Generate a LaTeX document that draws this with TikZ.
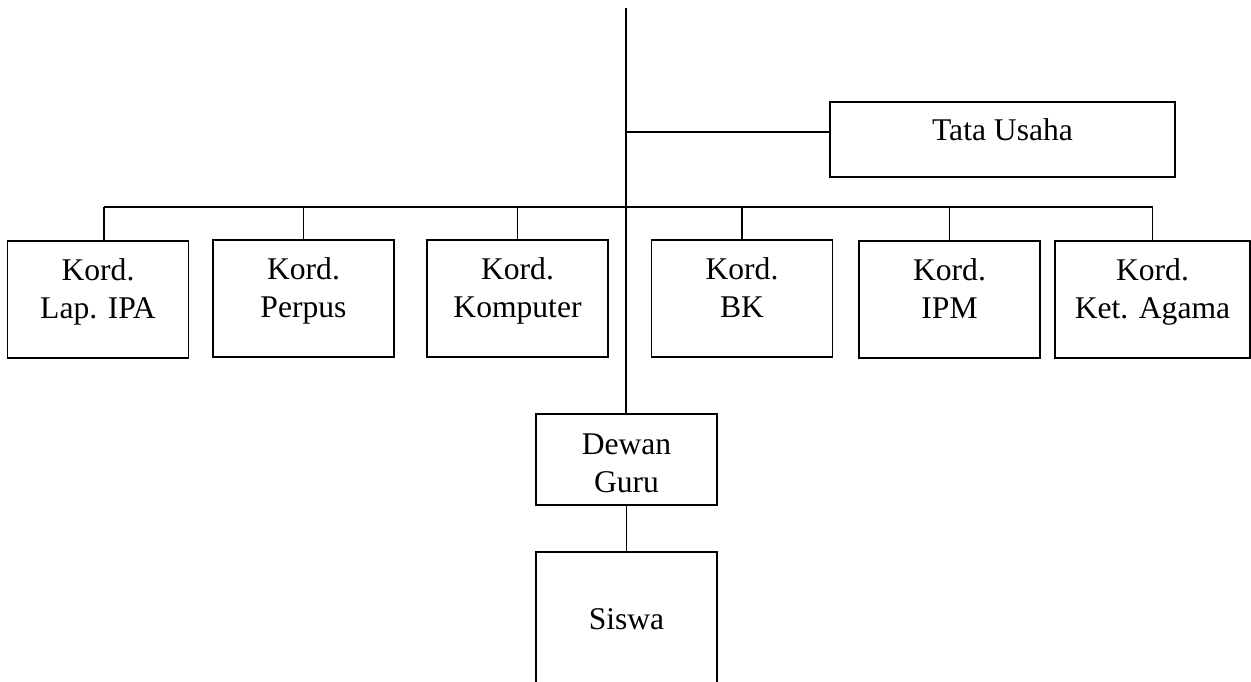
\documentclass[tikz,border=0pt]{standalone}
\usepackage{fontspec}
\setmainfont{Liberation Serif}
\newcommand\isi{\fontsize{31.6}{37.5}\selectfont}
\tikzset{
	kotak/.style={draw, line width=1.5pt, inner sep=0pt, minimum width=181pt, minimum height=117pt},
	teks/.style={font=\isi, align=center},
	garis/.style={line width=1.5pt}
}
\begin{document}
\begin{tikzpicture}[x=1pt,y=-1pt]
	\useasboundingbox (0,0) rectangle (1251,681);
	%main line points
	\coordinate (puncak) at (626,8);
	\coordinate (cabang) at (626,132);
	\coordinate (bus) at (626,207);
	%tata usaha
	\node[kotak, minimum width=345pt, minimum height=75pt, label={[teks,yshift=7pt]center:\strut Tata Usaha}] (tata) at (1002.5,139.5) {};
	%koordinator
	\node[kotak, label={[teks,yshift=7.5pt]center:\strut Kord.\\\strut Lap. IPA}] (lap) at (98,299.5) {};
	\node[kotak, label={[teks,yshift=7.5pt]center:\strut Kord.\\\strut Perpus}] (perpus) at (303.5,298.5) {};
	\node[kotak, label={[teks,yshift=7.5pt]center:\strut Kord.\\\strut Komputer}] (komputer) at (517.5,298.5) {};
	\node[kotak, label={[teks,yshift=7.5pt]center:\strut Kord.\\\strut BK}] (bk) at (742,298.5) {};
	\node[kotak, label={[teks,yshift=7.5pt]center:\strut Kord.\\\strut IPM}] (ipm) at (949.5,299.5) {};
	\node[kotak, minimum width=195pt, label={[teks,yshift=7.5pt]center:\strut Kord.\\\strut Ket. Agama}] (agama) at (1152.5,299.5) {};
	%dewan guru and siswa
	\node[kotak, minimum height=91pt, label={[teks,yshift=-6.5pt]center:\strut Dewan\\\strut Guru}] (dewan) at (626.5,459.5) {};
	\node[kotak, minimum height=132pt, label={[teks,yshift=-3.5pt]center:\strut Siswa}] (siswa) at (626.5,618) {};
	%connectors
	\draw[garis] (puncak) -- (puncak |- dewan.north);
	\draw[garis] (cabang) -- (cabang -| tata.west);
	\draw[garis] ([xshift=6pt]bus -| lap.north) -- (bus -| agama.north);
	\draw[garis] ([xshift=6pt]bus -| lap.north) -- ([xshift=6pt]lap.north);
	\foreach \k in {perpus,komputer,bk,ipm,agama}
		\draw[garis] (bus -| \k.north) -- (\k.north);
	\draw[garis] (dewan.south) -- (siswa.north);
\end{tikzpicture}
\end{document}
